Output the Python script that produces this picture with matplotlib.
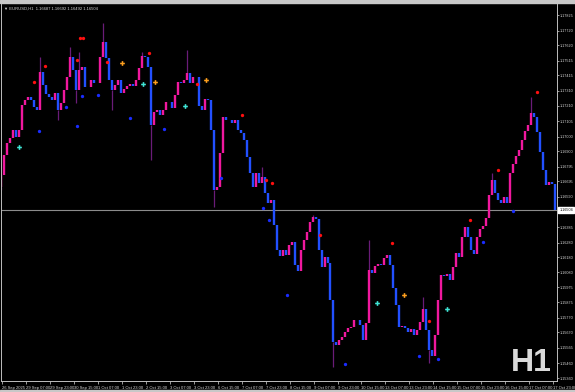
"""EURUSD H1 candle chart, MT4 style, dark background."""

import matplotlib
matplotlib.use("Agg")
import matplotlib.pyplot as plt
from matplotlib.patches import Rectangle
import matplotlib.transforms as mtransforms
import numpy as np

# ---- close prices, one candle per 2 hours ----
closes = [
    1.16739, 1.16875, 1.16956, 1.16990, 1.17044, 1.16997, 1.17044, 1.17214, 1.17248, 1.17268,
    1.17248, 1.17201, 1.17180, 1.17438, 1.17350, 1.17289, 1.17268, 1.17248, 1.17296, 1.17180,
    1.17228, 1.17316, 1.17404, 1.17540, 1.17452, 1.17316, 1.17452, 1.17472, 1.17336, 1.17336,
    1.17384, 1.17363, 1.17363, 1.17540, 1.17642, 1.17533, 1.17384, 1.17316, 1.17350, 1.17384,
    1.17296, 1.17323, 1.17343, 1.17357, 1.17343, 1.17384, 1.17465, 1.17547, 1.17540, 1.17472,
    1.17078, 1.17167, 1.17180, 1.17146, 1.17180, 1.17234, 1.17234, 1.17194, 1.17282, 1.17370,
    1.17363, 1.17384, 1.17431, 1.17363, 1.17404, 1.17404, 1.17207, 1.17180, 1.17255, 1.17248,
    1.17044, 1.16637, 1.16657, 1.16888, 1.17133, 1.17112, 1.17112, 1.17092, 1.17112, 1.17044,
    1.17024, 1.16976, 1.16861, 1.16752, 1.16657, 1.16752, 1.16684, 1.16725, 1.16617, 1.16549,
    1.16569, 1.16399, 1.16229, 1.16189, 1.16229, 1.16196, 1.16263, 1.16284, 1.16128, 1.16087,
    1.16229, 1.16297, 1.16352, 1.16420, 1.16454, 1.16440, 1.16229, 1.16114, 1.16182, 1.16141,
    1.15890, 1.15605, 1.15584, 1.15618, 1.15639, 1.15673, 1.15700, 1.15707, 1.15754, 1.15754,
    1.15720, 1.15618, 1.15734, 1.16094, 1.16073, 1.16121, 1.16134, 1.16128, 1.16175, 1.16196,
    1.16128, 1.15972, 1.15856, 1.15707, 1.15714, 1.15700, 1.15673, 1.15693, 1.15652, 1.15686,
    1.15741, 1.15829, 1.15686, 1.15551, 1.15510, 1.15652, 1.15890, 1.16060, 1.16053, 1.16067,
    1.16026, 1.16114, 1.16209, 1.16182, 1.16318, 1.16386, 1.16318, 1.16229, 1.16202, 1.16318,
    1.16372, 1.16393, 1.16447, 1.16603, 1.16705, 1.16617, 1.16569, 1.16549, 1.16589, 1.16549,
    1.16752, 1.16813, 1.16868, 1.16909, 1.16976, 1.17038, 1.17078, 1.17160, 1.17133, 1.17031,
    1.16895, 1.16773, 1.16671, 1.16691, 1.16678, 1.16504,
]
first_open = 1.16657

# long wicks that stand out (candle index -> price)
spike_high = {13: 1.17540, 23: 1.17608, 26: 1.17574, 34: 1.17771, 47: 1.17574, 62: 1.17588,
              87: 1.16793, 104: 1.16467, 123: 1.16297, 141: 1.15910, 164: 1.16752, 177: 1.17268}
spike_low = {0: 1.16637, 19: 1.17112, 25: 1.17228, 37: 1.17180, 50: 1.16841, 71: 1.16522,
             111: 1.15435, 143: 1.15462}

# ---- indicator marks (hour, price) ----
red_h = [22, 29, 51, 53, 55, 71, 99, 131, 161, 177, 181, 213, 261, 286, 313, 332, 358]
red_p = [1.17370, 1.17479, 1.17520, 1.17669, 1.17669, 1.17506, 1.17567, 1.17357, 1.17146,
         1.16705, 1.16684, 1.16331, 1.16277, 1.15747, 1.16433, 1.16773, 1.17302]
blue_h = [25, 43, 51, 54, 65, 86, 109, 147, 175, 179, 191, 230, 279, 292, 322, 342]
blue_p = [1.17038, 1.17201, 1.17071, 1.17275, 1.17282, 1.17126, 1.17051, 1.16718, 1.16515,
          1.16433, 1.15924, 1.15455, 1.15510, 1.15489, 1.16284, 1.16494]
cyan_h = [12, 95, 123, 251, 298]
cyan_p = [1.16929, 1.17357, 1.17207, 1.15870, 1.15829]
orange_h = [81, 103, 137, 269]
orange_p = [1.17499, 1.17370, 1.17384, 1.15924]

last_price = 1.16504
y_ticks = ["1.17825", "1.17720", "1.17620", "1.17515", "1.17415", "1.17310", "1.17210",
           "1.17105", "1.17000", "1.16900", "1.16795", "1.16695", "1.16590", "1.16385",
           "1.16280", "1.16180", "1.16080", "1.15975", "1.15875", "1.15770", "1.15670",
           "1.15565", "1.15460", "1.15360"]
x_labels = ["26 Sep 2025", "29 Sep 07:00", "29 Sep 23:00", "30 Sep 15:00", "1 Oct 07:00",
            "1 Oct 23:00", "2 Oct 15:00", "3 Oct 07:00", "3 Oct 23:00", "6 Oct 15:00",
            "7 Oct 07:00", "7 Oct 23:00", "8 Oct 15:00", "9 Oct 07:00", "9 Oct 23:00",
            "10 Oct 15:00", "13 Oct 07:00", "13 Oct 23:00", "14 Oct 15:00", "15 Oct 07:00",
            "15 Oct 23:00", "16 Oct 15:00", "17 Oct 07:00", "17 Oct 23:00"]

MAGENTA = "#F0189E"
BLUE = "#2250FF"
WICK = "#6A1C78"
FG = "#D8D8D8"
FONT = ["Liberation Sans", "DejaVu Sans"]

fig = plt.figure(figsize=(5.75, 3.92), dpi=100, facecolor="black")
ax = fig.add_axes([0.002, 11 / 392, 557 / 575 - 0.002, 377 / 392], facecolor="black")

c = np.array(closes)
o = np.r_[first_open, c[:-1]]
x = np.arange(len(c)) * 2
up = c >= o

for i, p in spike_high.items():
    ax.vlines(x[i], max(o[i], c[i]), p, color=WICK, lw=0.9, zorder=1)
for i, p in spike_low.items():
    ax.vlines(x[i], p, min(o[i], c[i]), color=WICK, lw=0.9, zorder=1)

ax.vlines(x[up], o[up], c[up], color=MAGENTA, lw=1.7, zorder=2)
ax.vlines(x[~up], o[~up], c[~up], color=BLUE, lw=1.7, zorder=2)

ax.plot(red_h, red_p, "o", color="#FF1010", ms=2.4, mew=0, zorder=3)
ax.plot(blue_h, blue_p, "o", color="#1A2CFF", ms=2.4, mew=0, zorder=3)
ax.plot(cyan_h, cyan_p, "P", color="#3FE6D6", ms=3.4, mew=0, zorder=3)
ax.plot(orange_h, orange_p, "P", color="#FFA01E", ms=3.4, mew=0, zorder=3)

ax.axhline(last_price, color="#8C8C8C", lw=0.8, zorder=0)

ax.set_xlim(0, 371.3)
ax.set_ylim(1.15340, 1.17900)

ax.yaxis.tick_right()
ax.set_yticks([float(v) for v in y_ticks])
ax.set_yticklabels(y_ticks)
ax.set_xticks(np.arange(len(x_labels)) * 16 + 0.7)
ax.set_xticklabels(x_labels, ha="left")
ax.tick_params(axis="x", colors=FG, labelcolor=FG, length=2, width=0.5, pad=1.5,
               labelsize=3.0)
ax.tick_params(axis="y", colors=FG, labelcolor=FG, length=1.5, width=0.5, pad=0.6,
               labelsize=2.7)
for lab in ax.get_xticklabels() + ax.get_yticklabels():
    lab.set_family(FONT)

ax.spines["top"].set_visible(False)
for side in ["left", "right", "bottom"]:
    ax.spines[side].set_color("#BEBEBE")
    ax.spines[side].set_linewidth(0.7)

# last price box on the price scale
trans = mtransforms.blended_transform_factory(ax.transAxes, ax.transData)
ax.text(1.004, last_price, "1.16504", transform=trans, ha="left", va="center",
        fontsize=2.7, family=FONT, color="black",
        bbox=dict(boxstyle="square,pad=0.25", fc="white", ec="white"), zorder=5,
        clip_on=False)

ax.text(0.006, 0.992, "\u25bc EURUSD,H1  1.16687 1.16692 1.16492 1.16504", transform=ax.transAxes,
        ha="left", va="top", fontsize=3.0, family=FONT, color=FG)
ax.text(0.99, 0.008, "H1", transform=ax.transAxes, ha="right", va="bottom",
        fontsize=23, fontweight="bold", family=FONT, color="#DADADA")

# window frame strips
fig.patches.append(Rectangle((0, 1 - 3 / 392), 1, 3 / 392, transform=fig.transFigure,
                             color="#C8C8C8", zorder=0))
fig.patches.append(Rectangle((0, 0), 1, 2 / 392, transform=fig.transFigure,
                             color="#C8C8C8", zorder=0))

fig.savefig("out.png", dpi=100, facecolor="black")
